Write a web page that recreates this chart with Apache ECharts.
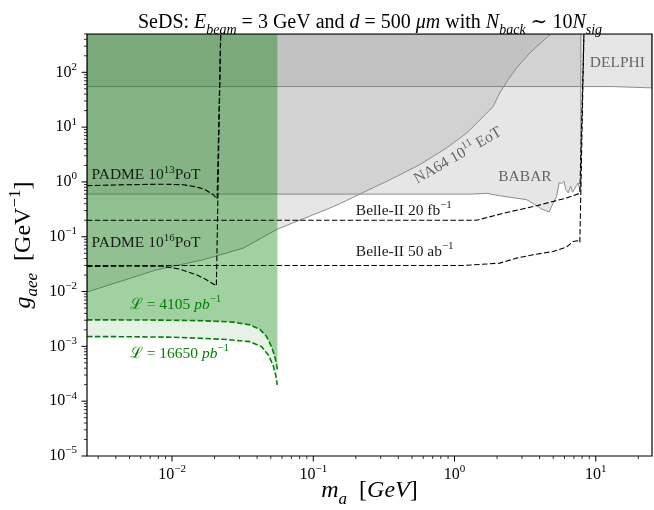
<!DOCTYPE html>
<html>
<head>
<meta charset="utf-8">
<title>SeDS reach</title>
<script src="https://cdn.jsdelivr.net/npm/echarts@6/dist/echarts.min.js"></script>
<style>
  html, body { margin: 0; padding: 0; background: #ffffff; }
  #chart { width: 654px; height: 510px; }
</style>
</head>
<body>
<div id="chart"></div>
<script>
// ---------- axis ranges and tick values ----------
const massRange = [0.0025, 25];
const couplingRange = [1e-5, 500];
const massMajorTicks = [0.01, 0.1, 1, 10];
const couplingMajorTicks = [1e-5, 1e-4, 1e-3, 1e-2, 1e-1, 1, 10, 100];

// ---------- excluded regions: lower boundaries (each region extends to the top) ----------
const delphiMass = [0.0025, 13, 25];
const delphiCoupling = [55, 55, 52];

const babarMass = [0.0025, 1.3, 1.7, 2.09, 3.24, 3.71, 4.13, 4.68, 4.86, 5.28, 5.51, 5.73, 5.95, 6.14, 6.38, 6.63, 6.85, 7.31, 7.50, 7.71, 7.83];
const babarCoupling = [0.60, 0.60, 0.62, 0.56, 0.475, 0.385, 0.321, 0.283, 0.358, 0.546, 0.98, 0.93, 1.03, 0.72, 0.63, 0.83, 0.65, 0.86, 0.96, 0.72, 0.80];

const na64Mass = [0.0025, 0.00776, 0.0166, 0.0319, 0.0557, 0.131, 0.154, 0.213, 0.330, 0.567, 0.877, 1.22, 1.69, 1.88, 2.09, 2.40, 2.75, 3.41, 4.60, 4.89];
const na64Coupling = [0.0098, 0.0249, 0.038, 0.062, 0.138, 0.334, 0.40, 0.60, 1.02, 2.06, 4.16, 7.8, 18.1, 23.9, 42, 73.6, 120, 226, 454, 500];

// ---------- projected reaches (dashed) ----------
const padme13Mass = [0.0025, 0.004, 0.006, 0.009, 0.012, 0.0141, 0.0160, 0.01754, 0.0195, 0.02084, 0.0221];
const padme13Coupling = [0.855, 0.88, 0.90, 0.91, 0.89, 0.83, 0.77, 0.70, 0.586, 0.489, 500];

const padme16Mass = [0.0025, 0.005, 0.0085, 0.01135, 0.0149, 0.01754, 0.0206, 0.0221];
const padme16Coupling = [0.0286, 0.0292, 0.029, 0.0257, 0.0202, 0.0164, 0.0127, 500];

const belle20Mass = [0.0025, 1.43, 2.33, 3.81, 4.99, 6.21, 7.71, 8.24];
const belle20Coupling = [0.2, 0.2, 0.277, 0.368, 0.441, 0.508, 0.622, 500];

const belle50Mass = [0.0025, 1.146, 2.09, 2.75, 3.60, 4.99, 6.21, 6.92, 7.43, 7.71, 8.24];
const belle50Coupling = [0.0299, 0.0299, 0.033, 0.0408, 0.0469, 0.0538, 0.0648, 0.082, 0.0845, 0.0787, 500];

// ---------- SeDS reach for two integrated luminosities ----------
const seds4105Mass = [0.0025, 0.004, 0.006, 0.01, 0.015, 0.02, 0.027, 0.0355, 0.0418, 0.0467, 0.0506, 0.0534, 0.0548, 0.0557];
const seds4105Coupling = [0.00305, 0.00304, 0.00303, 0.00300, 0.00295, 0.00288, 0.00277, 0.00247, 0.00206, 0.00151, 0.00099, 0.00065, 0.00048, 0.00037];
const seds16650Mass = [0.0025, 0.005, 0.01, 0.0157, 0.025, 0.0355, 0.043, 0.0479, 0.0519, 0.0542, 0.0556];
const seds16650Coupling = [0.00151, 0.00150, 0.00147, 0.00141, 0.00133, 0.00122, 0.00099, 0.00070, 0.00046, 0.00030, 0.000198];

// ---------- helpers ----------
const FONT = '"Liberation Serif", "DejaVu Serif", serif';
const zip = (xs, ys) => xs.map((x, k) => [x, ys[k]]);
const yTop = couplingRange[1];

// region bounded below by a curve and above by the top of the axes
const regionAbove = (xs, ys) => zip(xs, ys).concat([[xs[xs.length - 1], yTop], [xs[0], yTop]]);

// rich-text styles: normal, italic, superscript, subscript
function richSet(size, color) {
  const lh = Math.round(size * 1.4);
  const small = Math.round(size * 0.7);
  const base = { fontFamily: FONT, fontSize: size, lineHeight: lh };
  if (color) base.color = color;
  const s = Object.assign({}, base, { fontSize: small, lineHeight: small });
  return {
    n: Object.assign({}, base),
    i: Object.assign({}, base, { fontStyle: 'italic' }),
    sup: Object.assign({}, s, { verticalAlign: 'top' }),
    sub: Object.assign({}, s, { verticalAlign: 'bottom' }),
    subi: Object.assign({}, s, { verticalAlign: 'bottom', fontStyle: 'italic' })
  };
}

function regionSeries(name, points, fill, stroke, z) {
  return {
    type: 'custom', name: name, z: z, silent: true, clip: true,
    data: [[1, 1]],
    renderItem: (params, api) => ({
      type: 'polygon',
      shape: { points: points.map(p => api.coord(p)) },
      style: { fill: fill, stroke: stroke || 'none', lineWidth: stroke ? 1 : 0 }
    })
  };
}

function curveSeries(name, xs, ys, color, width, z) {
  return {
    type: 'line', name: name, z: z, silent: true, clip: true,
    data: zip(xs, ys), symbol: 'none', showSymbol: false,
    lineStyle: { color: color, width: width, type: [5.5, 2.4] }
  };
}

const expLabel = v => {
  const e = Math.log10(v);
  const n = Math.round(e);
  if (Math.abs(e - n) > 1e-6) return '';
  return '{n|10}{sup|' + (n < 0 ? '\u2212' + (-n) : n) + '}';
};

// minor tick values k * 10^n inside a range
function minorTicks(range) {
  const out = [];
  const lo = Math.floor(Math.log10(range[0])), hi = Math.ceil(Math.log10(range[1]));
  for (let n = lo; n <= hi; n++) {
    for (let k = 2; k <= 9; k++) {
      const v = k * Math.pow(10, n);
      if (v >= range[0] && v <= range[1]) out.push(v);
    }
  }
  return out;
}

// text annotations, anchored in data coordinates
const annotations = [
  { at: [0.00269, 1.33], text: '{n|PADME 10}{sup|13}{n|PoT}', color: '#1a1a1a' },
  { at: [0.00269, 0.076], text: '{n|PADME 10}{sup|16}{n|PoT}', color: '#1a1a1a' },
  { at: [0.2, 0.298], text: '{n|Belle-II 20 fb}{sup|\u22121}', color: '#1a1a1a' },
  { at: [0.2, 0.0538], text: '{n|Belle-II 50 ab}{sup|\u22121}', color: '#1a1a1a' },
  { at: [2.04, 1.22], text: '{n|BABAR}', color: '#666666' },
  { at: [9.08, 148], text: '{n|DELPHI}', color: '#666666' },
  { at: [1.055, 3.01], text: '{n|NA64 10}{sup|11}{n| EoT}', color: '#666666', rotate: 30, align: 'center' },
  { at: [0.00502, 0.0058], text: '{n|\u2112 = 4105 }{i|pb}{sup|\u22121}', color: '#008000' },
  { at: [0.00502, 0.00073], text: '{n|\u2112 = 16650 }{i|pb}{sup|\u22121}', color: '#008000' }
];

const GRAY_FILL = 'rgba(128,128,128,0.2)';
const GRAY_EDGE = '#8c8c8c';

const chart = echarts.init(document.getElementById('chart'), null, { renderer: 'canvas' });

const option = {
  animation: false,
  backgroundColor: '#ffffff',
  grid: { left: 87, right: 2, top: 34, bottom: 54, containLabel: false, outerBoundsMode: 'none' },
  graphic: [{
    type: 'text', x: 370, y: 23, z: 100,
    style: {
      text: '{n|SeDS: }{i|E}{subi|beam}{n| = 3 GeV and }{i|d}{n| = 500 }{i|\u03bcm}{n| with }{i|N}{subi|back}{n| \u223c 10}{i|N}{subi|sig}',
      rich: richSet(20), fill: '#000', align: 'center', verticalAlign: 'middle'
    }
  }],
  xAxis: {
    type: 'log', logBase: 10, min: massRange[0], max: massRange[1], splitNumber: 4,
    axisLine: { show: false }, axisTick: { show: false }, splitLine: { show: false },
    axisLabel: { formatter: expLabel, margin: 8, color: '#000', interval: 0, rich: richSet(16, '#000') },
    name: '{i|m}{subi|a}{n|  [}{i|GeV}{n|]}', nameLocation: 'middle', nameGap: 18, nameMoveOverlap: false,
    nameTextStyle: { rich: richSet(24, '#000') }
  },
  yAxis: {
    type: 'log', logBase: 10, min: couplingRange[0], max: couplingRange[1], splitNumber: 8,
    axisLine: { show: false }, axisTick: { show: false }, splitLine: { show: false },
    axisLabel: { formatter: expLabel, margin: 10, color: '#000', interval: 0, rich: richSet(16, '#000') },
    name: '{i|g}{subi|aee}{n|  [GeV}{sup|\u22121}{n|]}', nameLocation: 'middle', nameGap: 46, nameRotate: 90, nameMoveOverlap: false,
    nameTextStyle: { rich: richSet(24, '#000') }
  },
  series: [
    regionSeries('DELPHI', regionAbove(delphiMass, delphiCoupling), GRAY_FILL, GRAY_EDGE, 2),
    regionSeries('BABAR', regionAbove(babarMass, babarCoupling), GRAY_FILL, GRAY_EDGE, 2),
    regionSeries('NA64', regionAbove(na64Mass, na64Coupling), GRAY_FILL, GRAY_EDGE, 2),
    regionSeries('SeDS 4105', regionAbove(seds4105Mass, seds4105Coupling), 'rgba(0,128,0,0.37)', null, 3),
    regionSeries('SeDS band', zip(seds4105Mass, seds4105Coupling).concat(zip(seds16650Mass, seds16650Coupling).reverse()), 'rgba(0,128,0,0.1)', null, 3),
    curveSeries('PADME 1e13', padme13Mass, padme13Coupling, '#000', 1.1, 4),
    curveSeries('PADME 1e16', padme16Mass, padme16Coupling, '#000', 1.1, 4),
    curveSeries('Belle-II 20', belle20Mass, belle20Coupling, '#000', 1.1, 4),
    curveSeries('Belle-II 50', belle50Mass, belle50Coupling, '#000', 1.1, 4),
    curveSeries('SeDS 4105 line', seds4105Mass, seds4105Coupling, '#008000', 1.6, 4),
    curveSeries('SeDS 16650 line', seds16650Mass, seds16650Coupling, '#008000', 1.6, 4),
    {
      type: 'custom', name: 'annotations', z: 5, silent: true,
      data: [[1, 1]],
      renderItem: (params, api) => ({
        type: 'group',
        children: annotations.map(a => {
          const p = api.coord(a.at);
          return {
            type: 'text', x: p[0], y: p[1], rotation: (a.rotate || 0) * Math.PI / 180,
            style: {
              text: a.text, rich: richSet(15.5), fill: a.color,
              align: a.align || 'left', verticalAlign: 'middle'
            }
          };
        })
      })
    },
    {
      type: 'custom', name: 'frame', z: 6, silent: true,
      data: [[1, 1]],
      renderItem: (params, api) => {
        const cs = params.coordSys;
        const bottom = cs.y + cs.height;
        const left = cs.x;
        const kids = [];
        const tick = (x1, y1, x2, y2, w) => kids.push({
          type: 'line', shape: { x1: x1, y1: y1, x2: x2, y2: y2 },
          style: { stroke: '#000', lineWidth: w }
        });
        massMajorTicks.forEach(v => { const x = api.coord([v, couplingRange[0]])[0]; tick(x, bottom, x, bottom + 5.5, 1); });
        minorTicks(massRange).forEach(v => { const x = api.coord([v, couplingRange[0]])[0]; tick(x, bottom, x, bottom + 3, 0.8); });
        couplingMajorTicks.forEach(v => { const y = api.coord([massRange[0], v])[1]; tick(left, y, left - 5.5, y, 1); });
        minorTicks(couplingRange).forEach(v => { const y = api.coord([massRange[0], v])[1]; tick(left, y, left - 3, y, 0.8); });
        kids.push({
          type: 'rect', shape: { x: cs.x, y: cs.y, width: cs.width, height: cs.height },
          style: { fill: 'none', stroke: '#000', lineWidth: 1.2 }
        });
        return { type: 'group', children: kids };
      }
    }
  ]
};

chart.setOption(option);
</script>
</body>
</html>
